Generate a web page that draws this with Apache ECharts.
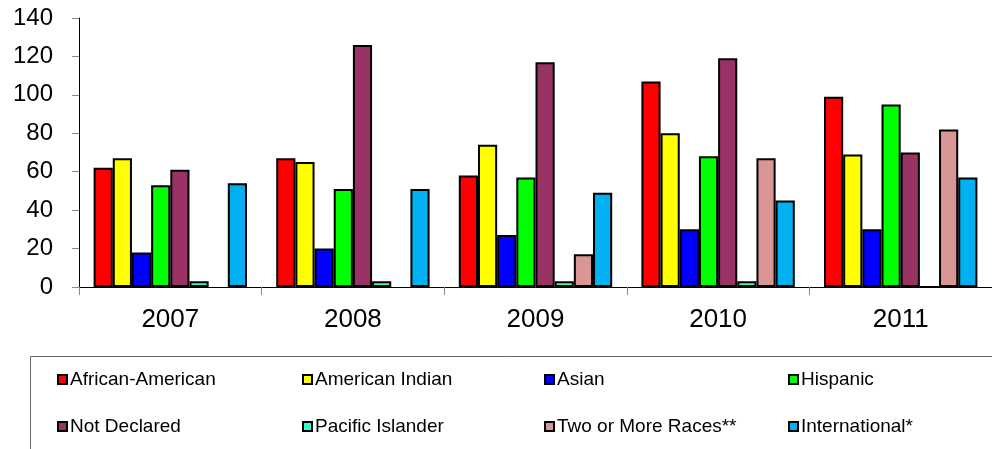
<!DOCTYPE html>
<html>
<head>
<meta charset="utf-8">
<script src="https://cdn.jsdelivr.net/npm/echarts@6/dist/echarts.min.js"></script>
<style>html,body{margin:0;padding:0;background:#fff;}#c{width:992px;height:449px;}</style>
</head>
<body>
<div id="c"></div>
<script>
var years = ['2007', '2008', '2009', '2010', '2011'];
var seriesNames = ['African-American', 'American Indian', 'Asian', 'Hispanic', 'Not Declared', 'Pacific Islander', 'Two or More Races**', 'International*'];
var africanAmerican = [62, 67, 58, 107, 99];
var americanIndian = [67, 65, 74, 80, 69];
var asian = [18, 20, 27, 30, 30];
var hispanic = [53, 51, 57, 68, 95];
var notDeclared = [61, 126, 117, 119, 70];
var pacificIslander = [3, 3, 3, 3, 0];
var twoOrMore = [null, null, 17, 67, 82];
var international = [54, 51, 49, 45, 57];
var yTicks = [0, 20, 40, 60, 80, 100, 120, 140];

var values = [africanAmerican, americanIndian, asian, hispanic, notDeclared, pacificIslander, twoOrMore, international];
var colors = ['#FF0000', '#FFFF00', '#0000FF', '#00FF00', '#993366', '#33FFCC', '#D99694', '#00B0F0'];

var chart = echarts.init(document.getElementById('c'), null, {renderer: 'canvas'});
var series = seriesNames.map(function (n, i) {
  return {
    name: n,
    type: 'bar',
    data: values[i],
    barGap: '0%',
    barCategoryGap: '16%',
    itemStyle: {color: colors[i], borderColor: '#000', borderWidth: 2},
    emphasis: {disabled: true}
  };
});
var legendLefts = [57, 302, 544, 788];
var legendTops = [370, 417];
var legends = seriesNames.map(function (n, i) {
  return {
    data: [n],
    left: legendLefts[i % 4],
    top: legendTops[Math.floor(i / 4)],
    icon: 'rect',
    itemWidth: 9,
    itemHeight: 9,
    padding: 0,
    selectedMode: false,
    textStyle: {
      fontFamily: 'Liberation Sans, Arial, sans-serif',
      fontSize: 19,
      color: '#000',
      padding: [0, 0, 0, -2]
    },
    itemStyle: {borderColor: '#000', borderWidth: 2}
  };
});
chart.setOption({
  animation: false,
  backgroundColor: '#fff',
  grid: {left: 79, top: 18, width: 915, height: 269, containLabel: false},
  xAxis: {
    type: 'category',
    data: years,
    axisLine: {lineStyle: {color: '#000', width: 1}},
    axisTick: {show: true, length: 8, lineStyle: {color: '#888'}},
    axisLabel: {fontFamily: 'Liberation Sans, Arial, sans-serif', fontSize: 26, color: '#000', margin: 20}
  },
  yAxis: {
    type: 'value',
    min: yTicks[0],
    max: yTicks[yTicks.length - 1],
    interval: 20,
    axisLine: {show: true, lineStyle: {color: '#000', width: 1}},
    axisTick: {show: true, length: 7, lineStyle: {color: '#888'}},
    splitLine: {show: false},
    axisLabel: {fontFamily: 'Liberation Sans, Arial, sans-serif', fontSize: 24, color: '#000', margin: 26}
  },
  legend: legends,
  graphic: [{
    type: 'rect',
    shape: {x: 30.5, y: 356.5, width: 1000, height: 120},
    style: {fill: 'none', stroke: '#666', lineWidth: 1},
    z: -1,
    silent: true
  }],
  series: series
});
</script>
</body>
</html>
